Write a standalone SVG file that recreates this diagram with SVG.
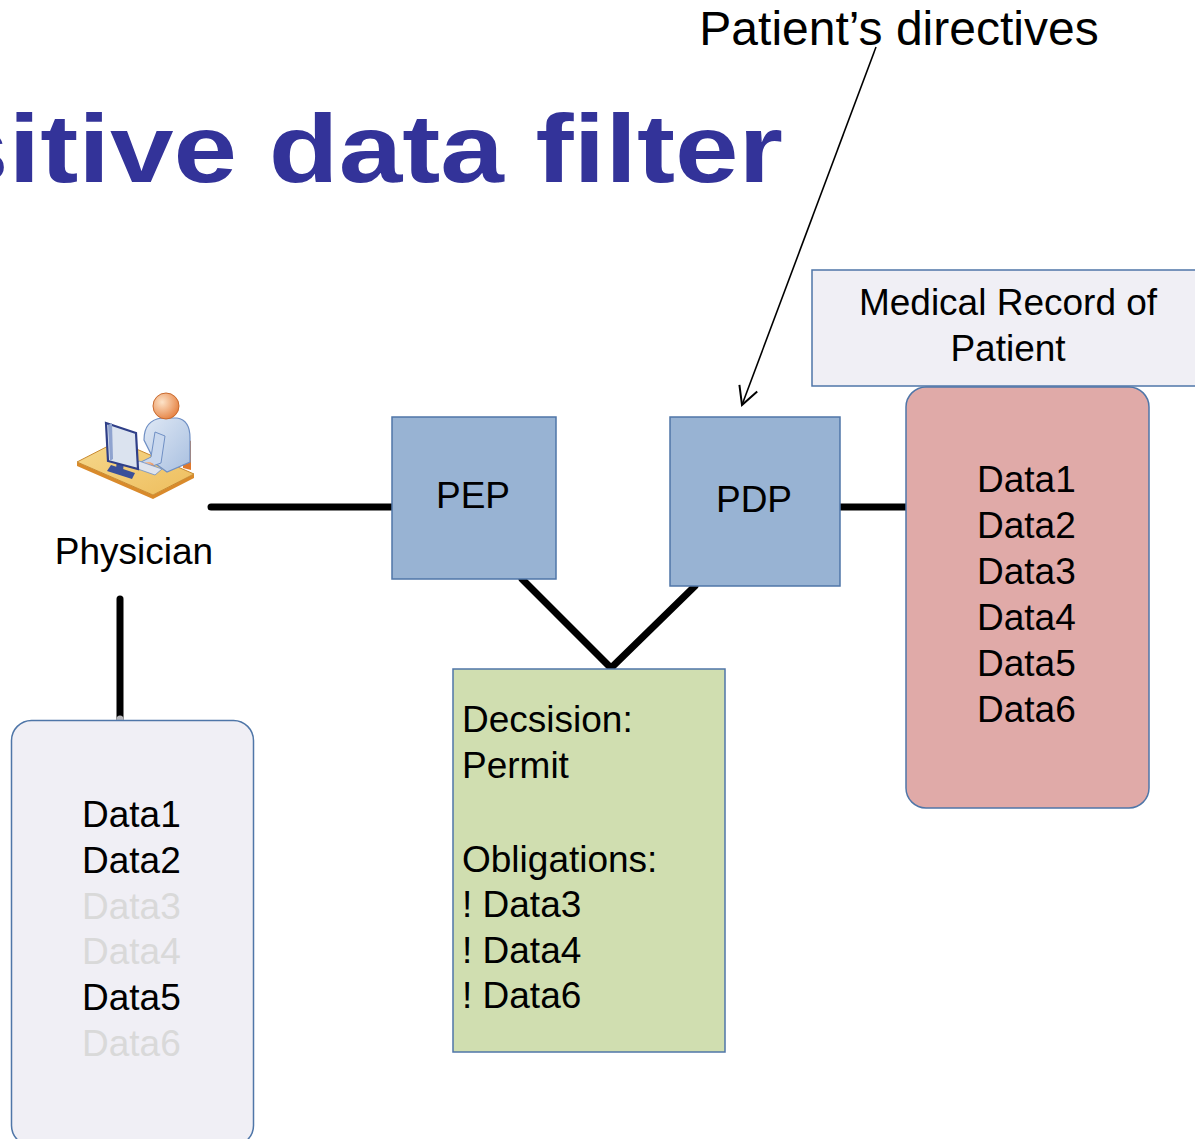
<svg xmlns="http://www.w3.org/2000/svg" width="1195" height="1139" viewBox="0 0 1195 1139">
  <style>
    .txt { font-family: "Liberation Sans", Arial, Helvetica, sans-serif; font-size: 37px; fill: #000; }
    .dim { fill: #d9d9d9; }
    .title { font-family: "Liberation Sans", Arial, Helvetica, sans-serif; font-weight: bold; font-size: 96px; fill: #333399; }
    .box { stroke: #4f76a8; stroke-width: 1.5; }
    .blue { fill: #98b3d3; }
    .pale { fill: #f0eff5; }
    .red { fill: #e0aaa8; }
    .green { fill: #d0deb0; }
    .wire { stroke: #000; stroke-width: 7; stroke-linecap: round; stroke-linejoin: miter; fill: none; }
  </style>
  <defs>
    <marker id="vhead" markerUnits="userSpaceOnUse" markerWidth="40" markerHeight="40" viewBox="-20 -20 40 40" refX="0" refY="0" orient="auto">
      <path d="M -18 -9.5 L 0 0 L -18 9.5" fill="none" stroke="#000" stroke-width="2"/>
    </marker>
    <radialGradient id="skin" cx="0.35" cy="0.35" r="0.75">
      <stop offset="0" stop-color="#fde3c8"/>
      <stop offset="1" stop-color="#e47c3a"/>
    </radialGradient>
    <linearGradient id="deskTop" x1="0" y1="0" x2="1" y2="1">
      <stop offset="0" stop-color="#f6d98e"/>
      <stop offset="1" stop-color="#eebd5c"/>
    </linearGradient>
    <linearGradient id="shirt" x1="0" y1="0" x2="1" y2="1">
      <stop offset="0" stop-color="#dfe8f5"/>
      <stop offset="1" stop-color="#a9c0e0"/>
    </linearGradient>
  </defs>

  <!-- slide title, running off the left edge -->
  <text class="title" text-anchor="end" transform="translate(783,182) scale(1.19,1)">sitive data filter</text>

  <!-- annotation -->
  <g id="directives">
    <text class="txt" x="899" y="45" text-anchor="middle" style="font-size:48px">Patient’s directives</text>
  </g>

  <!-- connectors -->
  <g id="connectors">
    <line class="wire" x1="211" y1="507" x2="393" y2="507"/>
    <line class="wire" x1="839" y1="507" x2="907" y2="507"/>
    <polyline class="wire" points="522,579 611,668 695,586"/>
    <line class="wire" x1="120" y1="599" x2="120" y2="719"/>
    <line x1="120" y1="719" x2="120" y2="730" stroke="#b8b8bc" stroke-width="7" stroke-linecap="round"/>
    <line x1="876" y1="47" x2="742" y2="405" stroke="#000" stroke-width="1.6" marker-end="url(#vhead)"/>
  </g>

  <!-- physician workstation -->
  <g id="physician">
    <!-- desk -->
    <polygon points="77,462 153,495 194,474 194,478 153,499 77,466" fill="#d98a2b"/>
    <polygon points="77,462 118,441 194,474 153,495" fill="url(#deskTop)" stroke="#c98a30" stroke-width="1"/>
    <!-- chair back -->
    <polygon points="183,437 191,441 191,470 183,468" fill="#e0782c"/>
    <!-- person -->
    <path d="M144,440 Q144,420 162,418 L177,418 Q190,420 190,438 L190,462 L167,472 L156,464 Z" fill="url(#shirt)" stroke="#6f8fc4" stroke-width="1.2"/>
    <path d="M155,432 L151,457 L141,462 L144,469 L161,463 L165,436 Z" fill="#c9d8ee" stroke="#6f8fc4" stroke-width="1"/>
    <ellipse cx="148" cy="466" rx="6" ry="4" fill="url(#skin)"/>
    <circle cx="166" cy="406" r="13" fill="url(#skin)" stroke="#c96a2e" stroke-width="1"/>
    <!-- keyboard -->
    <polygon points="139,461 162,469 155,475 132,467" fill="#dfe4ee" stroke="#6f8fc4" stroke-width="0.8"/>
    <!-- monitor -->
    <polygon points="111,465 135,473 132,479 107,471" fill="#3a4f99"/>
    <polygon points="118,450 125,452 123,471 116,469" fill="#3a4f99"/>
    <polygon points="106,423 136,433 138,469 108,461" fill="#dbe3ef" stroke="#2f3f88" stroke-width="2.2"/>
    <polygon points="108,425 112,423 113,459 110,461" fill="#8fa3cf"/>
  </g>
  <g id="physician-label">
    <text class="txt" x="134" y="564" text-anchor="middle">Physician</text>
  </g>

  <!-- enforcement point -->
  <g id="pep">
    <rect class="box blue" x="392" y="417" width="164" height="162"/>
    <text class="txt" x="473" y="508" text-anchor="middle">PEP</text>
  </g>

  <!-- decision point -->
  <g id="pdp">
    <rect class="box blue" x="670" y="417" width="170" height="169"/>
    <text class="txt" x="754" y="512" text-anchor="middle">PDP</text>
  </g>

  <!-- record header -->
  <g id="record-header">
    <rect class="box pale" x="812" y="270" width="400" height="116"/>
    <text class="txt" x="1008" y="315" text-anchor="middle">Medical Record of</text>
    <text class="txt" x="1008" y="361" text-anchor="middle">Patient</text>
  </g>

  <!-- full record -->
  <g id="record">
    <rect class="box red" x="906" y="387" width="243" height="421" rx="20"/>
    <text class="txt" x="977" y="492">Data1</text>
    <text class="txt" x="977" y="538">Data2</text>
    <text class="txt" x="977" y="584">Data3</text>
    <text class="txt" x="977" y="630">Data4</text>
    <text class="txt" x="977" y="676">Data5</text>
    <text class="txt" x="977" y="722">Data6</text>
  </g>

  <!-- decision and obligations -->
  <g id="decision">
    <rect class="box green" x="453" y="669" width="272" height="383"/>
    <text class="txt" x="462" y="732">Decsision:</text>
    <text class="txt" x="462" y="778">Permit</text>
    <text class="txt" x="462" y="872">Obligations:</text>
    <text class="txt" x="462" y="917">! Data3</text>
    <text class="txt" x="462" y="963">! Data4</text>
    <text class="txt" x="462" y="1008">! Data6</text>
  </g>

  <!-- filtered view -->
  <g id="filtered">
    <rect class="box pale" x="11.5" y="720.5" width="242" height="425" rx="20"/>
    <text class="txt" x="82" y="827">Data1</text>
    <text class="txt" x="82" y="873">Data2</text>
    <text class="txt dim" x="82" y="919">Data3</text>
    <text class="txt dim" x="82" y="964">Data4</text>
    <text class="txt" x="82" y="1010">Data5</text>
    <text class="txt dim" x="82" y="1056">Data6</text>
  </g>
</svg>
